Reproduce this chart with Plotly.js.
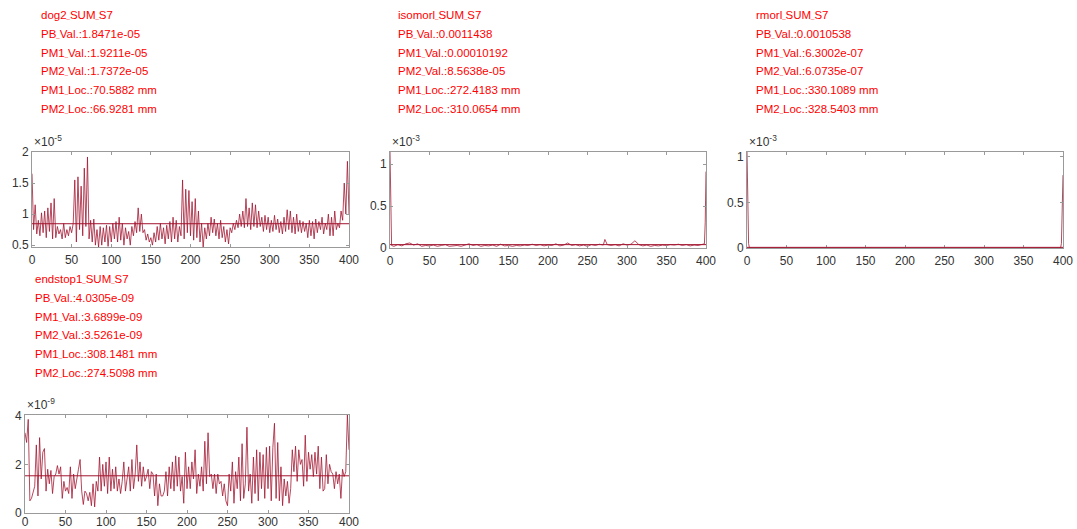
<!DOCTYPE html>
<html>
<head>
<meta charset="utf-8">
<script src="https://cdn.plot.ly/plotly-3.0.1.min.js"></script>
<style>html,body{margin:0;padding:0;background:#fff;}#chart{width:1077px;height:529px;}</style>
</head>
<body>
<div id="chart"></div>
<script>
// ---------- DATA ----------
const seriesNames = ["dog2_SUM_S7", "isomorl_SUM_S7", "rmorl_SUM_S7", "endstop1_SUM_S7"];
const pbVal  = ["1.8471e-05", "0.0011438", "0.0010538", "4.0305e-09"];
const pm1Val = ["1.9211e-05", "0.00010192", "6.3002e-07", "3.6899e-09"];
const pm2Val = ["1.7372e-05", "8.5638e-05", "6.0735e-07", "3.5261e-09"];
const pm1Loc = ["70.5882", "272.4183", "330.1089", "308.1481"];
const pm2Loc = ["66.9281", "310.0654", "328.5403", "274.5098"];
const exponents = [-5, -3, -3, -9];

// dog2 (x 1e-5), x = 0,2,...,400
const dog2X = [0,2,4,6,8,10,12,14,16,18,20,22,24,26,28,30,32,34,36,38,40,42,44,46,48,50,52,54,56,58,60,62,64,66,68,70,72,74,76,78,80,82,84,86,88,90,92,94,96,98,100,102,104,106,108,110,112,114,116,118,120,122,124,126,128,130,132,134,136,138,140,142,144,146,148,150,152,154,156,158,160,162,164,166,168,170,172,174,176,178,180,182,184,186,188,190,192,194,196,198,200,202,204,206,208,210,212,214,216,218,220,222,224,226,228,230,232,234,236,238,240,242,244,246,248,250,252,254,256,258,260,262,264,266,268,270,272,274,276,278,280,282,284,286,288,290,292,294,296,298,300,302,304,306,308,310,312,314,316,318,320,322,324,326,328,330,332,334,336,338,340,342,344,346,348,350,352,354,356,358,360,362,364,366,368,370,372,374,376,378,380,382,384,386,388,390,392,394,396,398,400];
const dog2Y = [1.65,0.75,1.15,0.68,0.9,0.65,1.02,0.7,1.05,0.62,1.1,0.72,1.18,0.6,1.25,0.62,0.8,0.68,0.75,0.6,0.85,0.62,0.75,0.65,0.8,0.7,0.85,1.55,0.55,1.6,0.75,1.45,0.65,1.74,0.8,1.92,0.6,0.9,0.55,0.92,0.5,0.75,0.47,0.8,0.5,0.78,0.55,0.82,0.48,0.8,0.55,0.85,0.6,0.88,0.55,0.95,0.58,0.85,0.5,0.78,0.6,0.72,0.5,0.8,0.65,0.88,0.7,1.1,0.72,1.0,0.7,0.75,0.58,0.68,0.55,0.62,0.5,0.7,0.55,0.8,0.58,0.85,0.6,0.78,0.52,0.82,0.6,0.88,0.55,0.95,0.6,0.9,0.55,0.8,0.65,1.55,0.6,1.4,0.7,1.38,0.65,1.2,0.58,1.25,0.62,1.05,0.55,0.85,0.47,0.78,0.6,0.85,0.65,0.95,0.7,0.92,0.65,0.85,0.6,0.9,0.62,0.8,0.55,0.75,0.52,0.78,0.7,0.85,0.75,0.9,0.78,1.0,0.8,1.05,0.78,1.25,0.8,1.1,0.75,1.18,0.8,1.15,0.78,1.05,0.8,0.95,0.72,0.98,0.75,0.95,0.7,0.9,0.72,0.98,0.75,0.92,0.7,0.88,0.68,0.95,0.72,1.07,0.75,1.05,0.7,0.95,0.68,1.0,0.72,0.9,0.7,0.88,0.72,0.85,0.62,0.9,0.65,0.88,0.6,0.92,0.7,0.88,0.75,0.95,0.68,0.85,0.75,1.0,0.65,0.95,0.65,1.05,0.75,0.85,0.78,1.05,0.9,1.5,1.0,1.85,1.0];
const dog2Mean = 0.845;

// isomorl (x 1e-3)
const isoX = [0,1,2,5,10,15,20,25,30,35,40,45,50,55,60,65,70,75,80,85,90,95,100,105,110,115,120,125,130,135,140,145,150,155,160,165,170,175,180,185,190,195,200,205,210,215,220,225,230,235,240,245,250,255,260,265,270,272,275,280,285,290,295,300,305,310,315,320,325,330,335,340,345,350,355,360,365,370,375,380,385,390,395,398,399,400];
const isoY = [1.144,0.13,0.03,0.02,0.04,0.025,0.05,0.06,0.035,0.05,0.02,0.03,0.025,0.035,0.02,0.03,0.04,0.02,0.025,0.03,0.02,0.035,0.05,0.03,0.04,0.02,0.03,0.025,0.035,0.02,0.045,0.025,0.03,0.02,0.03,0.025,0.035,0.03,0.045,0.03,0.04,0.025,0.035,0.03,0.05,0.025,0.035,0.06,0.03,0.04,0.025,0.035,0.02,0.04,0.03,0.045,0.035,0.102,0.04,0.03,0.04,0.025,0.05,0.035,0.045,0.086,0.04,0.025,0.035,0.02,0.03,0.025,0.035,0.03,0.04,0.035,0.045,0.03,0.04,0.025,0.035,0.03,0.04,0.05,0.3,0.91];
const isoMean = 0.04;

// rmorl (x 1e-3)
const rmX = [0,1,2,3,50,100,150,200,250,300,328,330,350,397,398,399,400];
const rmY = [1.054,0.45,0.05,0.003,0.0006,0.0006,0.0006,0.0006,0.0006,0.0006,0.00061,0.00063,0.0006,0.003,0.05,0.4,0.8];
const rmMean = 0.007;

// endstop1 (x 1e-9), x = 0,2,...,400
const endX = dog2X;
const endY = [3.3,2.9,3.85,0.5,0.6,0.9,1.1,2.8,0.7,3.1,1.4,2.5,2.65,0.9,1.8,1.2,1.75,0.8,1.5,1.6,1.95,1.6,1.9,0.6,1.3,0.9,1.05,0.8,1.9,0.6,1.6,1.0,1.5,1.8,2.2,0.9,0.35,0.9,0.8,0.5,0.85,0.3,1.2,0.25,1.3,0.9,2.3,0.9,2.0,1.1,2.1,0.8,2.3,0.9,1.8,1.0,1.9,0.9,1.4,0.8,1.3,2.1,0.9,1.5,1.9,0.9,2.2,1.0,1.6,2.8,1.3,2.1,1.1,1.9,1.3,1.5,1.8,1.0,1.7,1.6,0.7,1.6,0.3,1.2,0.7,0.7,0.9,1.7,0.7,1.9,1.0,2.1,0.9,2.35,1.1,2.3,0.9,1.5,0.4,2.5,1.0,1.9,1.0,2.1,1.4,2.6,0.8,1.6,1.1,1.9,0.9,2.95,1.2,3.3,1.5,1.6,1.0,1.6,0.8,1.6,1.2,1.3,0.7,1.2,0.5,0.3,1.6,0.9,2.1,0.4,1.7,1.0,2.3,0.5,2.85,0.6,1.2,3.53,0.9,1.6,0.4,2.3,0.8,2.6,0.5,2.5,1.0,2.4,0.6,2.7,1.0,2.75,0.5,2.7,3.69,0.6,2.9,0.5,1.9,0.3,1.4,0.7,1.3,0.4,1.0,2.6,1.7,2.75,1.3,2.6,2.0,2.2,1.1,3.2,1.3,2.5,1.8,2.4,1.5,2.5,1.6,2.75,1.0,2.3,0.9,1.0,2.4,1.2,2.0,1.7,1.6,1.0,1.7,1.2,1.6,0.6,1.8,1.5,1.7,4.03,2.6];
const endMean = 1.53;

const xTicks = [0,50,100,150,200,250,300,350,400];

// ---------- LAYOUT ----------
const W = 1077, H = 529;
const px = v => v / W;
const py = v => 1 - v / H;
const boxes = [
  {l:32, r:349, t:152, b:247, yr:[0.47, 2.0], yt:[0.5,1,1.5,2], ytt:["0.5","1","1.5","2"], tx:39, ty:15, so:2},
  {l:390, r:706, t:152, b:248, yr:[0, 1.144], yt:[0,0.5,1], ytt:["0","0.5","1"], tx:396, ty:15, so:2},
  {l:747, r:1063, t:152, b:248, yr:[0, 1.054], yt:[0,0.5,1], ytt:["0","0.5","1"], tx:754, ty:15, so:2},
  {l:25, r:349, t:415, b:513, yr:[0, 4.03], yt:[0,2,4], ytt:["0","2","4"], tx:33, ty:279, so:-2}
];
const xs = [dog2X, isoX, rmX, endX];
const ys = [dog2Y, isoY, rmY, endY];
const means = [dog2Mean, isoMean, rmMean, endMean];

const lineColor = 'rgba(162,20,47,0.78)';
const meanColor = '#A2142F';
const axColor = '#9a9a9a';
const tickFont = {family: 'Liberation Sans, Arial, sans-serif', size: 12, color: '#333333'};
const us = '<span style="font-size:6px">_</span>';

const traces = [];
const layout = {
  width: W, height: H,
  margin: {l:0, r:0, t:0, b:0},
  paper_bgcolor: '#ffffff', plot_bgcolor: '#ffffff',
  showlegend: false,
  annotations: [], shapes: []
};

boxes.forEach((b, i) => {
  const n = i + 1;
  const xa = 'xaxis' + (n === 1 ? '' : n), ya = 'yaxis' + (n === 1 ? '' : n);
  const xr = 'x' + (n === 1 ? '' : n), yr = 'y' + (n === 1 ? '' : n);
  traces.push({x: xs[i], y: ys[i], type: 'scatter', mode: 'lines',
    line: {color: lineColor, width: 1}, xaxis: xr, yaxis: yr, hoverinfo: 'skip'});
  const common = {showline: true, linecolor: axColor, linewidth: 1, mirror: 'ticks',
    ticks: 'inside', ticklen: 3, tickcolor: axColor, showgrid: false, zeroline: false,
    tickfont: tickFont, fixedrange: true};
  layout[xa] = Object.assign({}, common, {domain: [px(b.l), px(b.r)], range: [0, 400],
    tickvals: xTicks, ticktext: xTicks.map(String), anchor: yr, ticklabelstandoff: b.so});
  layout[ya] = Object.assign({}, common, {domain: [py(b.b), py(b.t)], range: b.yr,
    tickvals: b.yt, ticktext: b.ytt, anchor: xr});
  layout.shapes.push({type: 'line', xref: xr + ' domain', yref: yr, x0: 0, x1: 1,
    y0: means[i], y1: means[i], line: {color: meanColor, width: 1}});
  // exponent label
  layout.annotations.push({xref: 'paper', yref: 'paper', x: px(b.l), y: py(b.t - 1),
    xanchor: 'left', yanchor: 'bottom', showarrow: false,
    text: '×10<sup>' + exponents[i] + '</sup>',
    font: {family: 'Liberation Sans, Arial, sans-serif', size: 12, color: '#333333'}});
  // text block
  const name = seriesNames[i].split('_').join(us);
  const lines = [
    name,
    'PB' + us + 'Val.:' + pbVal[i],
    'PM1' + us + 'Val.:' + pm1Val[i],
    'PM2' + us + 'Val.:' + pm2Val[i],
    'PM1' + us + 'Loc.:' + pm1Loc[i] + ' mm',
    'PM2' + us + 'Loc.:' + pm2Loc[i] + ' mm'
  ];
  lines.forEach((t, k) => {
    layout.annotations.push({xref: 'paper', yref: 'paper', x: px(b.tx), y: py(b.ty + k * 18.8),
      xanchor: 'left', yanchor: 'middle', showarrow: false, text: t,
      font: {family: 'Liberation Sans, Arial, sans-serif', size: 11.5, color: '#ff0000'}});
  });
});

Plotly.newPlot('chart', traces, layout, {staticPlot: true, displayModeBar: false});
</script>
</body>
</html>
